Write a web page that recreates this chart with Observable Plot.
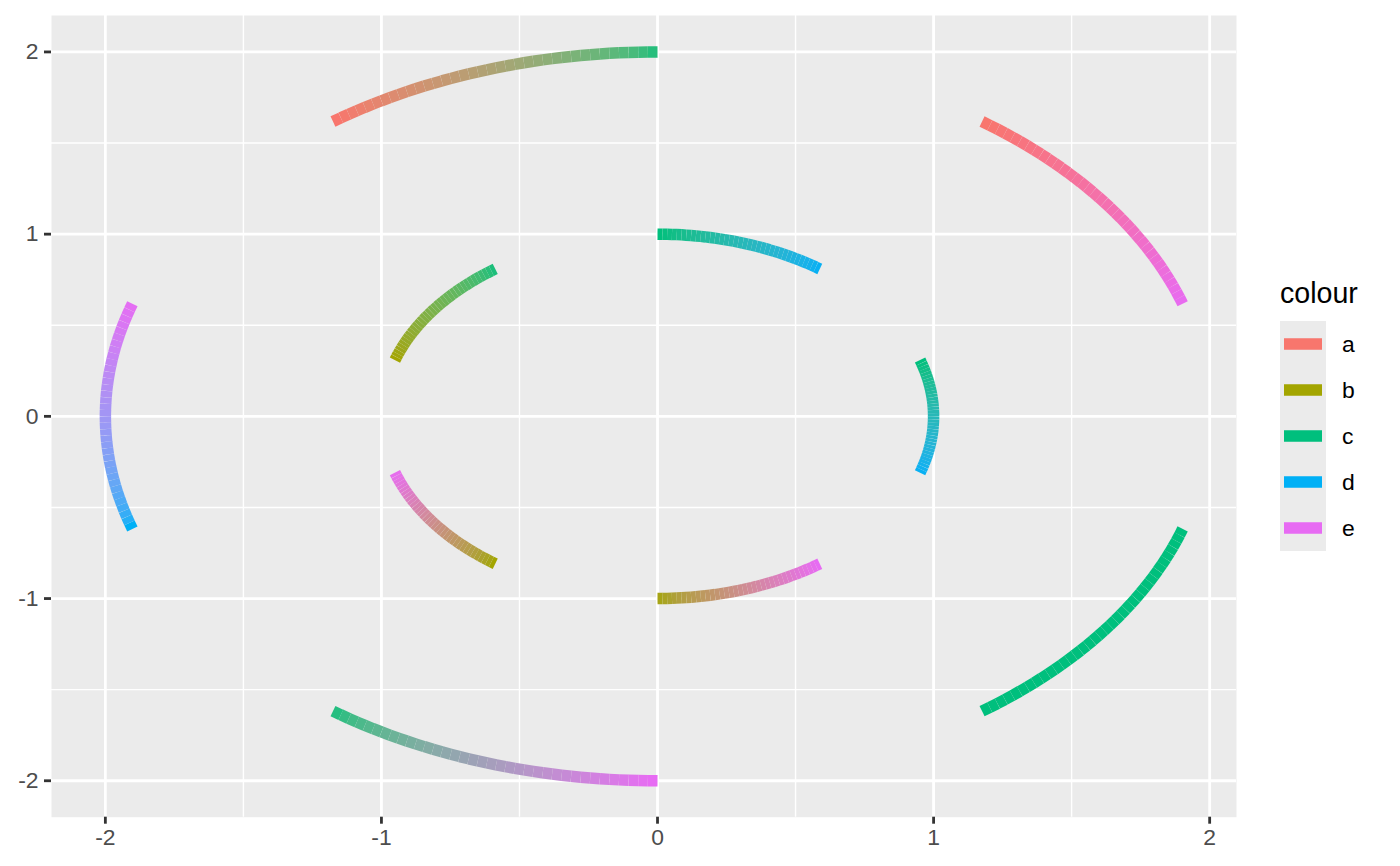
<!DOCTYPE html>
<html><head><meta charset="utf-8">
<script src="https://cdn.jsdelivr.net/npm/d3@7"></script>
<script src="https://cdn.jsdelivr.net/npm/@observablehq/plot@0.6"></script>
<style>
body{margin:0;background:#fff;font-family:"Liberation Sans",Arial,sans-serif;}
#wrap{position:relative;width:1400px;height:866px;overflow:hidden;}
#legend{position:absolute;left:0;top:0;}
</style></head><body><div id="wrap"></div>
<script>
// Arc definitions (angles in degrees, clockwise from 12 o'clock)
const arcStartDeg = [0, 36, 72, 108, 144, 180, 216, 252, 288, 324];
const arcEndDeg   = [36, 72, 108, 144, 180, 216, 252, 288, 324, 360];
const arcRadius   = [1, 2, 1, 2, 1, 2, 1, 2, 1, 2];
const startColour = ["c", "a", "c", "c", "e", "e", "b", "d", "b", "a"];
const endColour   = ["d", "e", "d", "c", "b", "c", "e", "e", "c", "c"];
const colourLevels = ["a", "b", "c", "d", "e"];
const colourValues = ["#F8766D", "#A3A500", "#00BF7D", "#00B0F6", "#E76BF3"];
const xTicks = [-2, -1, 0, 1, 2];
const yTicks = [-2, -1, 0, 1, 2];
const xMinor = [-1.5, -0.5, 0.5, 1.5];
const yMinor = [-1.5, -0.5, 0.5, 1.5];
const legendTitle = "colour";

const colourOf = k => colourValues[colourLevels.indexOf(k)];
const pointsPerCircle = 360;

// Build arc2 geometry: many short segments with interpolated colour
const segments = [];
const pts = [];
arcStartDeg.forEach((s, i) => {
  const e = arcEndDeg[i], r = arcRadius[i];
  const n = Math.max(2, Math.round(Math.abs(e - s) / 360 * pointsPerCircle));
  const interp = d3.interpolateLab(colourOf(startColour[i]), colourOf(endColour[i]));
  const arcPts = d3.range(n + 1).map(j => {
    const t = j / n;
    const a = (s + (e - s) * t) * Math.PI / 180;
    return {x: r * Math.sin(a), y: r * Math.cos(a), c: d3.color(interp(t)).formatHex()};
  });
  pts.push(...arcPts);
  for (let j = 0; j < n; j++) {
    segments.push({x1: arcPts[j].x, y1: arcPts[j].y, x2: arcPts[j+1].x, y2: arcPts[j+1].y, c: arcPts[j].c, arc: i});
  }
});

function expand(ext) { const d = (ext[1] - ext[0]) * 0.05; return [ext[0] - d, ext[1] + d]; }
const xDomain = expand(d3.extent(pts, d => d.x));
const yDomain = expand(d3.extent(pts, d => d.y));

const fontSize = 22.9;
const chart = Plot.plot({
  width: 1400, height: 866,
  marginLeft: 51, marginRight: 164, marginTop: 15, marginBottom: 49.3,
  style: {fontFamily: "'Liberation Sans', Arial, sans-serif", background: "white", overflow: "visible"},
  x: {domain: xDomain},
  y: {domain: yDomain},
  color: {type: "identity"},
  marks: [
    Plot.frame({fill: "#EBEBEB", stroke: null}),
    Plot.ruleX(xMinor, {stroke: "white", strokeWidth: 1.4}),
    Plot.ruleY(yMinor, {stroke: "white", strokeWidth: 1.4}),
    Plot.ruleX(xTicks, {stroke: "white", strokeWidth: 2.8}),
    Plot.ruleY(yTicks, {stroke: "white", strokeWidth: 2.8}),
    Plot.link(segments, {x1: "x1", y1: "y1", x2: "x2", y2: "y2", stroke: "c", strokeWidth: 11.5, strokeLinecap: "butt"}),
    Plot.axisX(xTicks, {tickSize: 7, tickPadding: 4.5, fontSize, stroke: "#333333", strokeWidth: 2.8, fill: "#4D4D4D", tickFormat: d => String(d)}),
    Plot.axisY(yTicks, {tickSize: 7, tickPadding: 6, fontSize, stroke: "#333333", strokeWidth: 2.8, fill: "#4D4D4D", tickFormat: d => String(d)})
  ]
});
document.getElementById("wrap").appendChild(chart);

// Legend
const lg = d3.select("#wrap").append("svg").attr("id", "legend")
  .attr("width", 1400).attr("height", 866)
  .style("font-family", "'Liberation Sans', Arial, sans-serif");
lg.append("text").attr("x", 1280).attr("y", 303).attr("font-size", 28.6).attr("fill", "black").text(legendTitle);
const keyTop = 321, keyH = 46;
lg.append("rect").attr("x", 1280).attr("y", keyTop).attr("width", 46).attr("height", keyH * colourLevels.length).attr("fill", "#EBEBEB");
colourLevels.forEach((k, i) => {
  const cy = keyTop + keyH * i + keyH / 2;
  lg.append("rect").attr("x", 1284).attr("y", cy - 5.75).attr("width", 38).attr("height", 11.5).attr("fill", colourValues[i]);
  lg.append("text").attr("x", 1342).attr("y", cy).attr("dy", "0.35em").attr("font-size", fontSize).attr("fill", "black").text(k);
});
</script></body></html>
